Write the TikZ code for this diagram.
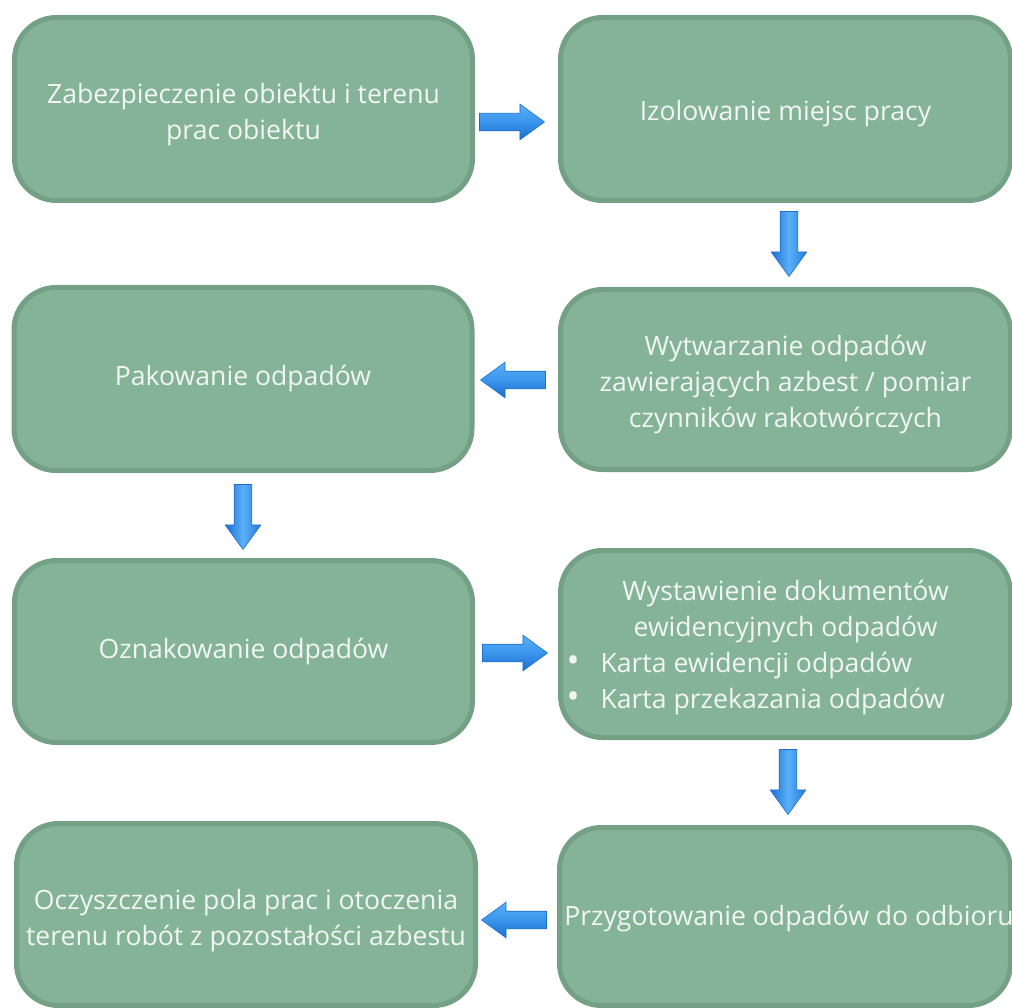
\documentclass[tikz,border=0pt]{standalone}
\usepackage{fontspec}
\setmainfont{Open Sans}
\usetikzlibrary{shapes.arrows}
\definecolor{boxfill}{HTML}{85B398}
\definecolor{boxline}{HTML}{74A185}
\definecolor{boxtext}{HTML}{F2F6F2}
\definecolor{arrdark}{HTML}{1D6ED0}
\definecolor{arrmid}{HTML}{3A95EB}
\definecolor{arrlight}{HTML}{5AB0F7}
\tikzset{
  stepbox/.style={draw=boxline, fill=boxfill, line width=5pt, rounded corners=42pt,
    inner sep=0pt},
  steptext/.style={inner sep=0pt, text=boxtext, align=center,
    font=\fontsize{26.6}{36}\selectfont},
  blockarrow/.style={single arrow, draw=arrdark, line width=0.6pt, inner sep=8.5pt,
    single arrow head extend=9pt, single arrow tip angle=72, minimum height=65pt, anchor=tip},
  harrow/.style={blockarrow, top color=arrlight, bottom color=arrdark, middle color=arrmid},
  varrow/.style={blockarrow, left color=arrdark, right color=arrdark!70!arrmid, middle color=arrlight}
}
\newcommand{\bulletitem}{\makebox[35pt][l]{\hspace{1pt}\raisebox{-0.5pt}{\scalebox{1.3}{\textbullet}}}}
\begin{document}
\begin{tikzpicture}[x=1pt,y=-1pt]
\path[use as bounding box, clip] (0,0) rectangle (1012,1008);
\fill[white] (0,0) rectangle (1012,1008);

\node[stepbox, minimum width=458pt, minimum height=183pt] (b1) at (243.5,109) {};
\node[stepbox, minimum width=450pt, minimum height=183pt] (b2) at (785.5,109) {};
\node[stepbox, minimum width=458pt, minimum height=183pt] (b3) at (243,379) {};
\node[stepbox, minimum width=450pt, minimum height=180pt] (b4) at (785.5,379.5) {};
\node[stepbox, minimum width=458pt, minimum height=182pt] (b5) at (243.5,651.5) {};
\node[stepbox, minimum width=450pt, minimum height=187pt] (b6) at (785.5,644) {};
\node[stepbox, minimum width=459pt, minimum height=182pt] (b7) at (246,914.5) {};
\node[stepbox, minimum width=451pt, minimum height=178pt] (b8) at (785,916.5) {};

\node[steptext] (t1) at ([yshift=-5.5pt]b1.center)
  {Zabezpieczenie obiektu i terenu\\prac obiektu};
\node[steptext] (t2) at ([yshift=-5pt]b2.center)
  {Izolowanie miejsc pracy};
\node[steptext] (t3) at ([yshift=0pt]b3.center)
  {Pakowanie odpadów};
\node[steptext] (t4) at ([yshift=-5.5pt]b4.center)
  {Wytwarzanie odpadów\\zawierających azbest / pomiar\\czynników rakotwórczych};
\node[steptext] (t5) at ([yshift=0pt]b5.center)
  {Oznakowanie odpadów};
\node[steptext] (t6) at ([yshift=-3.5pt]b6.center)
  {\begin{minipage}{440pt}\centering Wystawienie dokumentów\\ewidencyjnych odpadów\par
   \raggedright\bulletitem Karta ewidencji odpadów\\
   \bulletitem Karta przekazania odpadów\end{minipage}};
\node[steptext] (t7) at ([yshift=-6pt]b7.center)
  {Oczyszczenie pola prac i otoczenia\\terenu robót z pozostałości azbestu};
\node[steptext] (t8) at ([yshift=-1.5pt]b8.center)
  {\makebox[400pt][c]{\hspace{8pt}Przygotowanie odpadów do odbioru}};

\node[harrow, shape border rotate=0] (a1) at (545,122) {};
\node[varrow, shape border rotate=270] (a2) at (789,277) {};
\node[harrow, shape border rotate=180] (a3) at (480,380) {};
\node[varrow, shape border rotate=270] (a4) at (243,550) {};
\node[harrow, shape border rotate=0] (a5) at (548,653) {};
\node[varrow, shape border rotate=270] (a6) at (788,815) {};
\node[harrow, shape border rotate=180] (a7) at (481,920) {};
\end{tikzpicture}
\end{document}
